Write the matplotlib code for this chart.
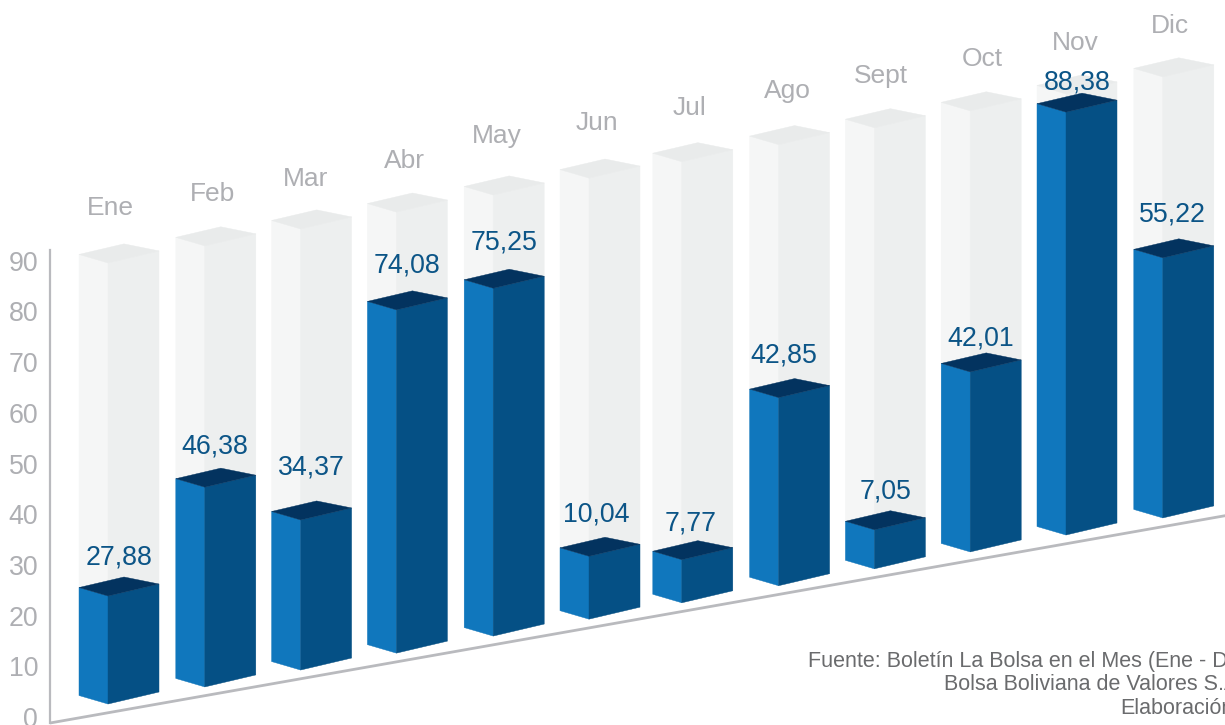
import matplotlib
matplotlib.use("Agg")
import matplotlib.pyplot as plt
from matplotlib.patches import Polygon
from matplotlib.transforms import Affine2D

plt.rcParams["font.family"] = ["Liberation Sans", "DejaVu Sans"]

# --- Data ---
months = ["Ene", "Feb", "Mar", "Abr", "May", "Jun", "Jul", "Ago", "Sept", "Oct", "Nov", "Dic"]
value_labels = ["27,88", "46,38", "34,37", "74,08", "75,25", "10,04", "7,77", "42,85", "7,05", "42,01", "88,38", "55,22"]
# drawn heights read against the left axis (they do not follow the printed labels exactly)
bar_heights = [21.3, 39.4, 29.6, 67.7, 68.6, 12.4, 8.5, 37.1, 7.7, 35.5, 83.4, 51.3]
ghost_height = 87
y_ticks = [0, 10, 20, 30, 40, 50, 60, 70, 80, 90]
footer_lines = ["Fuente: Boletín La Bolsa en el Mes (Ene - Dic)",
                "Bolsa Boliviana de Valores S.A.",
                "Elaboración"]

# --- Nudges, in pixels ---
bar_dx = [0, 1, 1, 1, 2, 2, -1, 0, 0, 0, 0, 1]  # the source bars are not evenly spaced
value_dx = [11, 11, 12, 12, 13, 9, 8, 5, 11, 10, 11, 11]
value_dy = [39, 41, 53, 45, 46, 42, 36, 42, 38, 33, 30, 44]
month_dx = [2, 9, 6, 9, 6, 10, 7, 9, 7, 12, 9, 8]
month_dy = [55, 52, 50, 51, 59, 55, 54, 54, 52, 52, 51, 51]

# --- Palette ---
BLUE_LEFT = "#1077bd"
BLUE_RIGHT = "#055085"
BLUE_TOP = "#03335f"
GHOST_LEFT = "#f5f6f6"
GHOST_RIGHT = "#edefef"
GHOST_TOP = "#e9ebeb"
AXIS = "#b9babe"
VALUE_TEXT = "#0c5587"
MONTH_TEXT = "#aeafb3"
FOOT_TEXT = "#6a6b6d"

# --- Picture scale ---
W, H = 1225, 725
STEP = 95.8      # px per month
UNIT = 5.07      # px per axis unit
ORIGIN_X = 108   # front corner of the first bar
ZERO_Y = 717     # where 0 sits on the left axis

fig = plt.figure(figsize=(W / 100, H / 100), dpi=100)
ax = fig.add_axes([0, 0, 1, 1])
ax.set_xlim(-ORIGIN_X / STEP, (W - ORIGIN_X) / STEP)
ax.set_ylim((ZERO_Y - H) / UNIT, ZERO_Y / UNIT)
ax.patch.set_alpha(0)

# floor rises to the right: bar bases sit on this shear
rise = 16.9 / UNIT
base = (ZERO_Y - 704) / UNIT
sheared = Affine2D.from_values(1, rise, 0, 1, 0, base) + ax.transData

# box corners relative to the front edge
LEFT = (-29 / STEP, 13.6 / UNIT)
RIGHT = (51 / STEP, 3.0 / UNIT)
BACK = (16 / STEP, 16.2 / UNIT)


def box(x, h, left, right, top):
    lo = (x + LEFT[0], LEFT[1])
    ro = (x + RIGHT[0], RIGHT[1])
    faces = [
        ([lo, (x, 0), (x, h), (lo[0], h + lo[1])], left),
        ([(x, 0), ro, (ro[0], h + ro[1]), (x, h)], right),
        ([(x, h), (lo[0], h + lo[1]), (x + BACK[0], h + BACK[1]), (ro[0], h + ro[1])], top),
    ]
    for pts, c in faces:
        ax.add_patch(Polygon(pts, closed=True, facecolor=c, edgecolor=c, linewidth=0.3,
                             transform=sheared, zorder=2))


# --- Bars ---
for i, h in enumerate(bar_heights):
    x = i + bar_dx[i] / STEP
    box(x, ghost_height, GHOST_LEFT, GHOST_RIGHT, GHOST_TOP)
    box(x, h, BLUE_LEFT, BLUE_RIGHT, BLUE_TOP)

    ax.annotate(value_labels[i], xy=(i, h), xycoords=sheared,
                xytext=(value_dx[i], value_dy[i]), textcoords="offset pixels",
                ha="center", va="center", fontsize=19.3, color=VALUE_TEXT, zorder=4)
    ax.annotate(months[i], xy=(i, ghost_height), xycoords=sheared,
                xytext=(month_dx[i], month_dy[i]), textcoords="offset pixels",
                ha="center", va="center", fontsize=19, color=MONTH_TEXT, zorder=4)

# --- Axes ---
axis_x = (50 - ORIGIN_X) / STEP
end_x = (W - ORIGIN_X) / STEP
floor = (ZERO_Y - 723) / UNIT - base - rise * axis_x
ax.plot([axis_x, end_x + 0.1], [floor, floor], color=AXIS, lw=2, transform=sheared,
        solid_capstyle="butt", zorder=1)

for side in ["top", "right", "bottom"]:
    ax.spines[side].set_visible(False)
ax.spines["left"].set_position(("data", axis_x))
ax.spines["left"].set_bounds((ZERO_Y - 723) / UNIT, (ZERO_Y - 250) / UNIT)
ax.spines["left"].set_color(AXIS)
ax.spines["left"].set_linewidth(1.6)
ax.set_xticks([])
ax.set_yticks(y_ticks)
ax.tick_params(axis="y", length=0, pad=8.5, labelsize=19.3, labelcolor=MONTH_TEXT)

# --- Footer (runs off the right edge, as in the source slide) ---
footer_x = [808, 944, 1120]
footer_y = [661, 685, 709]
for line, x, y in zip(footer_lines, footer_x, footer_y):
    fig.text(x / W, 1 - y / H, line, ha="left", va="center", fontsize=15.5, color=FOOT_TEXT)

fig.savefig("out.png", dpi=100)
